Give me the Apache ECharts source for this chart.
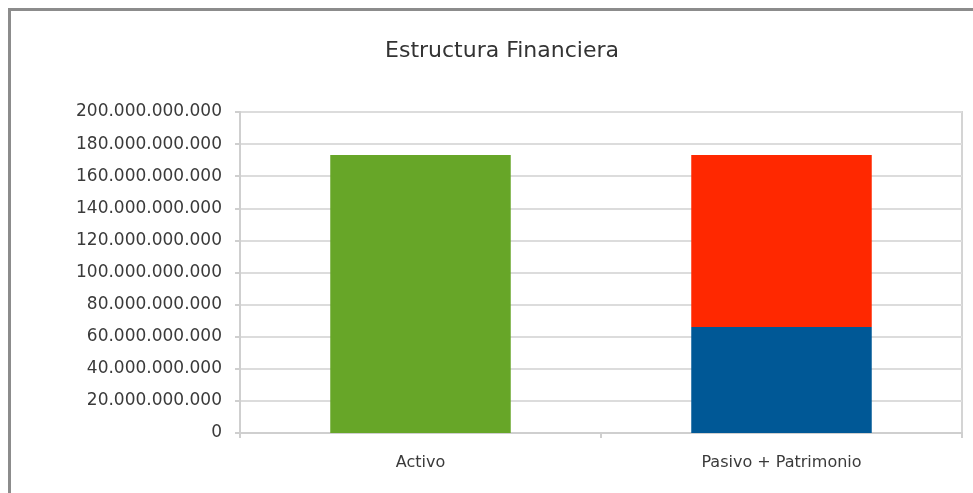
<!DOCTYPE html>
<html>
<head>
<meta charset="utf-8">
<script src="https://cdn.jsdelivr.net/npm/echarts@6/dist/echarts.min.js"></script>
<style>
html,body{margin:0;padding:0;background:#fff;}
#c{width:973px;height:493px;}
</style>
</head>
<body>
<div id="c"></div>
<script>
const categories = ['Activo', 'Pasivo + Patrimonio'];
const activo = [173200000000, '-'];
const pasivo = ['-', 66000000000];
const patrimonio = ['-', 107200000000];
const yTicks = { min: 0, max: 200000000000, interval: 20000000000 };

function fmt(v) {
  return String(Math.round(v)).replace(/\B(?=(\d{3})+(?!\d))/g, '.');
}

const chart = echarts.init(document.getElementById('c'));
chart.setOption({
  animation: false,
  backgroundColor: '#fff',
  title: {
    text: 'Estructura Financiera',
    left: 497,
    textAlign: 'center',
    top: 35,
    textStyle: { fontFamily: 'DejaVu Sans', fontSize: 22, fontWeight: 'normal', color: '#333' }
  },
  graphic: [
    { type: 'rect', shape: { x: 8, y: 8, width: 965, height: 3 }, style: { fill: '#8c8c8c' }, silent: true },
    { type: 'rect', shape: { x: 8, y: 8, width: 3, height: 485 }, style: { fill: '#8c8c8c' }, silent: true }
  ],
  grid: {
    left: 240, right: 11, top: 112, bottom: 60,
    show: true, borderColor: '#d4d4d4', borderWidth: 2, backgroundColor: 'transparent'
  },
  xAxis: {
    type: 'category',
    data: categories,
    axisLine: { lineStyle: { color: '#cfcfcf', width: 2 } },
    axisTick: { show: true, length: 5, alignWithLabel: false, lineStyle: { color: '#cfcfcf', width: 2 } },
    axisLabel: { margin: 22, fontFamily: 'DejaVu Sans', fontSize: 16, color: '#3a3a3a' }
  },
  yAxis: {
    type: 'value',
    min: yTicks.min, max: yTicks.max, interval: yTicks.interval,
    axisLine: { show: true, lineStyle: { color: '#cfcfcf', width: 2 } },
    axisTick: { show: true, length: 5, lineStyle: { color: '#cfcfcf', width: 2 } },
    splitLine: { lineStyle: { color: '#dcdcdc', width: 2 } },
    axisLabel: { margin: 18, fontFamily: 'DejaVu Sans', fontSize: 17, color: '#3a3a3a', formatter: fmt }
  },
  series: [
    { name: 'Activo', type: 'bar', stack: 'a', data: activo, barWidth: '50%', itemStyle: { color: '#67a628' } },
    { name: 'Pasivo', type: 'bar', stack: 'a', data: pasivo, barWidth: '50%', itemStyle: { color: '#005896' } },
    { name: 'Patrimonio', type: 'bar', stack: 'a', data: patrimonio, barWidth: '50%', itemStyle: { color: '#ff2800' } }
  ]
});
</script>
</body>
</html>
